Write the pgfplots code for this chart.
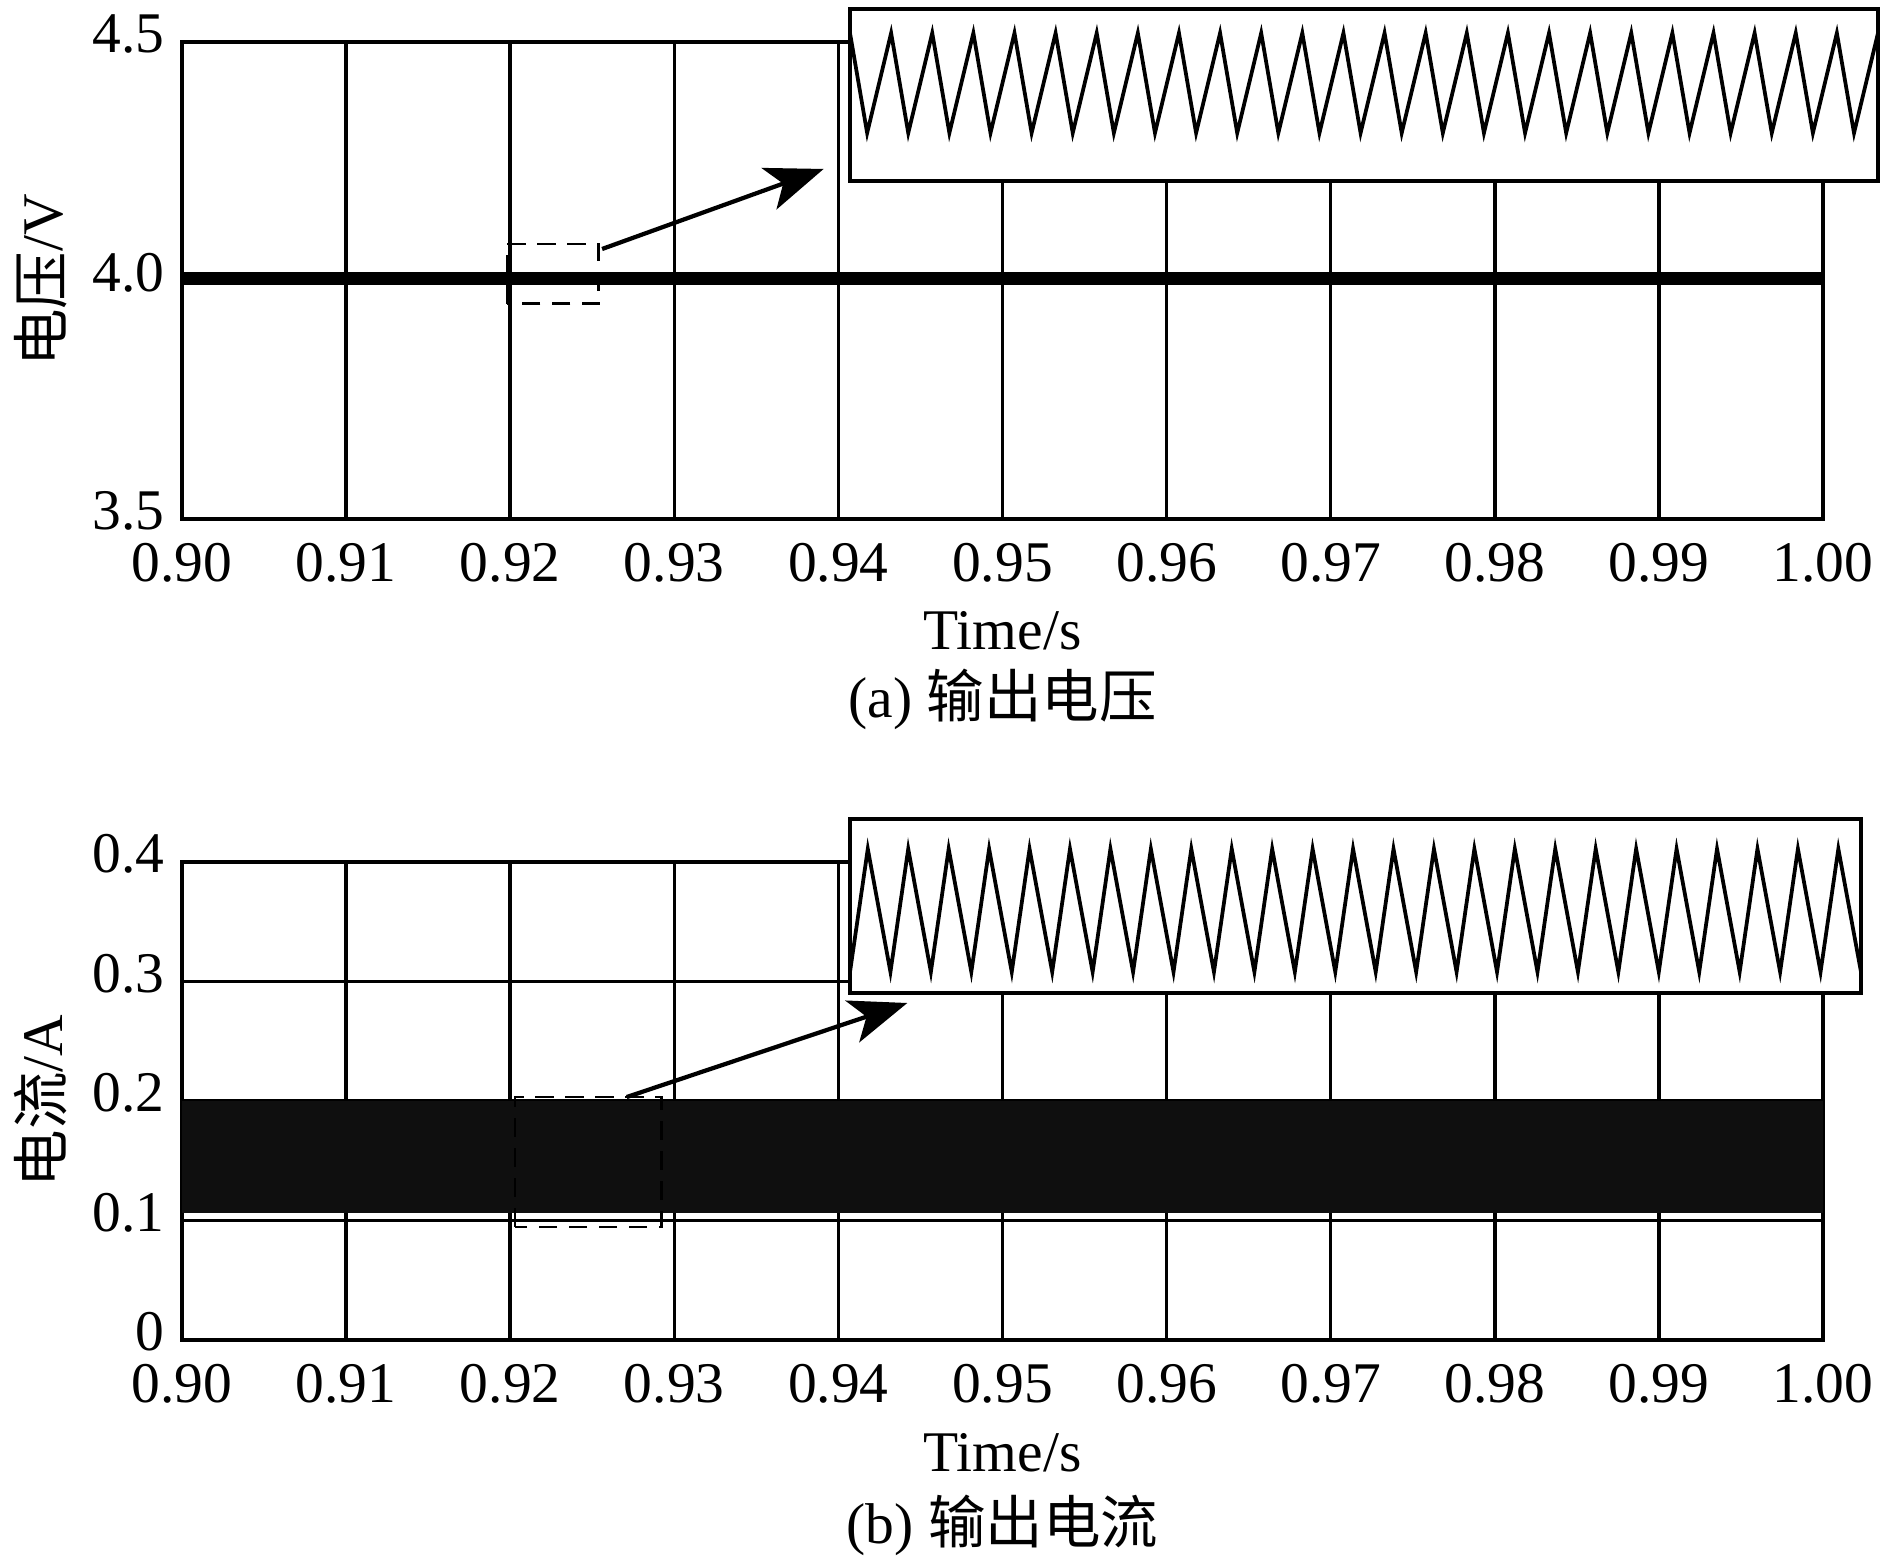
\documentclass[border=0pt]{standalone}
\usepackage{fontspec}
\setmainfont{Liberation Serif}
\newfontfamily\cjk{Noto Sans CJK SC}
\usepackage{pgfplots}
\pgfplotsset{compat=1.18}
\usetikzlibrary{arrows.meta}
\newcommand\fs{\fontsize{11.5pt}{13.8pt}\selectfont}
\pgfplotsset{
  mainax/.style={
    scale only axis, width=328.2pt, anchor=south west, clip=false,
    xmin=0.9, xmax=1.0,
    xtick={0.90,0.91,0.92,0.93,0.94,0.95,0.96,0.97,0.98,0.99,1.00},
    xticklabels={0.90,0.91,0.92,0.93,0.94,0.95,0.96,0.97,0.98,0.99,1.00},
    grid=major, major grid style={black, line width=0.7pt},
    axis line style={line width=0.9pt},
    major tick length=0pt,
    tick label style={font=\fs},
    xticklabel style={yshift=-1.3pt},
    yticklabel style={yshift=1.6pt},
    label style={font=\fs},
    xlabel={Time/s},
    xlabel style={at={(axis description cs:0.5,-0.2746)}, anchor=base},
    ylabel style={at={(axis description cs:-0.0731,0.5)}, anchor=base},
  },
  inset/.style={
    scale only axis, anchor=south west,
    xmin=0, xmax=25, ymin=0, ymax=1,
    xtick=\empty, ytick=\empty,
    axis background/.style={fill=white},
    axis line style={line width=0.9pt},
  },
}
\begin{document}
\begin{tikzpicture}
\useasboundingbox (0,0) rectangle (378pt,313.2pt);
% ---------- (a) output voltage ----------
\begin{axis}[mainax, at={(36.4pt,209.4pt)}, height=95.4pt,
  ymin=3.5, ymax=4.5, ytick={3.5,4.0,4.5}, yticklabels={3.5,4.0,4.5},
  ylabel={{\cjk 电压}/V}]
  \addplot[black, line width=2.5pt] coordinates {(0.9,4.004) (1.0,4.004)};
  \draw[black, line width=0.55pt, dash pattern=on 3.7pt off 2.3pt]
    (axis cs:0.9198,3.951) rectangle (axis cs:0.9254,4.0765);
  \draw[black, line width=0.85pt, -{Stealth[length=11.6pt, width=8.8pt, inset=3pt]}]
    (axis cs:0.9256,4.066) -- (axis cs:0.9391,4.2338);
  \node[font=\fs, anchor=base] at (rel axis cs:0.5,-0.417) {(a) {\cjk 输出电压}};
\end{axis}
% ---------- (b) output current ----------
\begin{axis}[mainax, at={(36.4pt,45.2pt)}, height=95.6pt,
  ymin=0, ymax=0.4, ytick={0,0.1,0.2,0.3,0.4}, yticklabels={0,0.1,0.2,0.3,0.4},
  ylabel={{\cjk 电流}/A}]
  \addplot[fill=black!94, draw=none] coordinates {(0.9,0.106) (1.0,0.106) (1.0,0.2) (0.9,0.2)} -- cycle;
  \draw[black, line width=0.55pt, dash pattern=on 3.7pt off 2.3pt]
    (axis cs:0.9203,0.0946) rectangle (axis cs:0.9292,0.2033);
  \draw[black, line width=0.85pt, -{Stealth[length=11.6pt, width=8.8pt, inset=3pt]}]
    (axis cs:0.9271,0.2033) -- (axis cs:0.9442,0.282);
  \node[font=\fs, anchor=base] at (rel axis cs:0.5,-0.4247) {(b) {\cjk 输出电流}};
\end{axis}
% ---------- inset (a) ----------
\begin{axis}[inset, at={(170pt,277pt)}, width=205.6pt, height=34.4pt]
  \addplot[black, line width=0.75pt] coordinates {
    (0,0.86) (0.417,0.279) (1,0.86) (1.417,0.279) (2,0.86) (2.417,0.279)
    (3,0.86) (3.417,0.279) (4,0.86) (4.417,0.279) (5,0.86) (5.417,0.279)
    (6,0.86) (6.417,0.279) (7,0.86) (7.417,0.279) (8,0.86) (8.417,0.279)
    (9,0.86) (9.417,0.279) (10,0.86) (10.417,0.279) (11,0.86) (11.417,0.279)
    (12,0.86) (12.417,0.279) (13,0.86) (13.417,0.279) (14,0.86) (14.417,0.279)
    (15,0.86) (15.417,0.279) (16,0.86) (16.417,0.279) (17,0.86) (17.417,0.279)
    (18,0.86) (18.417,0.279) (19,0.86) (19.417,0.279) (20,0.86) (20.417,0.279)
    (21,0.86) (21.417,0.279) (22,0.86) (22.417,0.279) (23,0.86) (23.417,0.279)
    (24,0.86) (24.417,0.279) (25,0.86)};
\end{axis}
% ---------- inset (b) ----------
\begin{axis}[inset, at={(170pt,114.6pt)}, width=202.2pt, height=34.8pt]
  \addplot[black, line width=0.75pt] coordinates {
    (0,0.121) (0.44,0.828) (1,0.121) (1.44,0.828) (2,0.121) (2.44,0.828)
    (3,0.121) (3.44,0.828) (4,0.121) (4.44,0.828) (5,0.121) (5.44,0.828)
    (6,0.121) (6.44,0.828) (7,0.121) (7.44,0.828) (8,0.121) (8.44,0.828)
    (9,0.121) (9.44,0.828) (10,0.121) (10.44,0.828) (11,0.121) (11.44,0.828)
    (12,0.121) (12.44,0.828) (13,0.121) (13.44,0.828) (14,0.121) (14.44,0.828)
    (15,0.121) (15.44,0.828) (16,0.121) (16.44,0.828) (17,0.121) (17.44,0.828)
    (18,0.121) (18.44,0.828) (19,0.121) (19.44,0.828) (20,0.121) (20.44,0.828)
    (21,0.121) (21.44,0.828) (22,0.121) (22.44,0.828) (23,0.121) (23.44,0.828)
    (24,0.121) (24.44,0.828) (25,0.121)};
\end{axis}
\end{tikzpicture}
\end{document}
